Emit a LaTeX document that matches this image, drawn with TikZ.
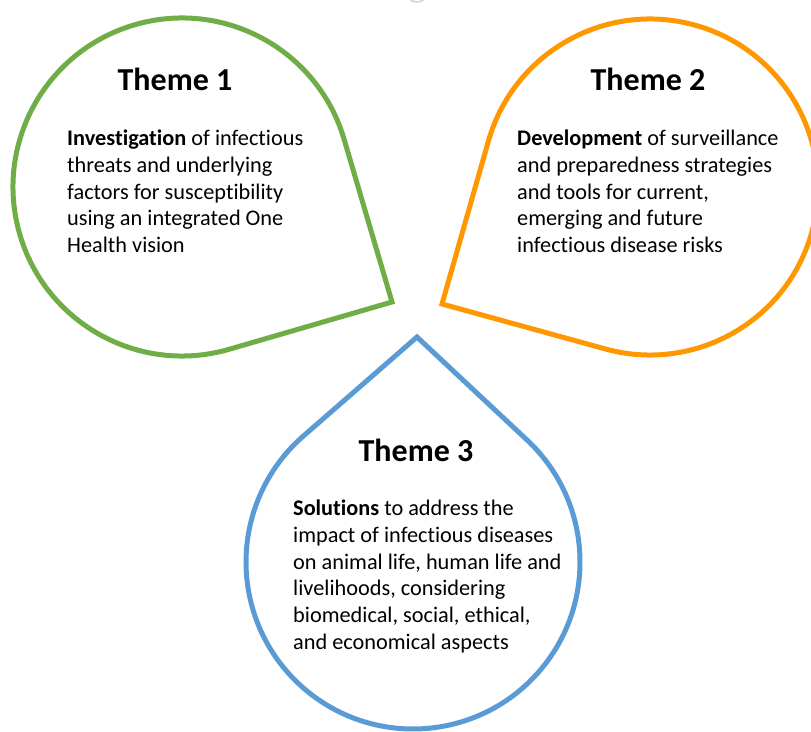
\documentclass[tikz,border=0pt]{standalone}
\usepackage{fontspec}
\setmainfont{Carlito}[Ligatures=NoCommon]
\usepackage{tikz}
\usetikzlibrary{calc}

\definecolor{themegreen}{RGB}{112,173,71}
\definecolor{themeorange}{RGB}{255,152,0}
\definecolor{themeblue}{RGB}{91,155,213}

\begin{document}
\begin{tikzpicture}[
    x=1pt, y=1pt,
    drop/.style={line width=5pt, line join=miter},
    title/.style={font=\bfseries\fontsize{32}{38}\selectfont, inner sep=0pt},
    body/.style={anchor=north west, align=left, inner sep=0pt, font=\fontsize{22.3}{26.7}\selectfont}
]
\useasboundingbox (0,0) rectangle (811,731);

% small grey mark on the top edge
\draw[gray!35, line width=1.5pt] (417,741) circle (12);

% Theme 1 drop, tip pointing down right
\coordinate (c1) at (182,544);
\coordinate (tip1) at (392,429);
\draw[drop, themegreen] (tip1) -- ($(c1)+(16.4:169)$) arc[start angle=16.4, end angle=286.2, radius=169] -- cycle;

% Theme 2 drop, tip pointing down left
\coordinate (c2) at (650,544);
\coordinate (tip2) at (442,427);
\draw[drop, themeorange] (tip2) -- ($(c2)+(254.6:168)$) arc[start angle=254.6, end angle=524.1, radius=168] -- cycle;

% Theme 3 drop, tip pointing up
\coordinate (c3) at (413,169);
\coordinate (tip3) at (417,394);
\draw[drop, themeblue] (tip3) -- ($(c3)+(46.9:167)$) arc[start angle=46.9, end angle=-228.9, radius=167] -- cycle;

% Titles
\node[title] (theme1) at (175,652) {Theme 1};
\node[title] (theme2) at (648,652) {Theme 2};
\node[title] (theme3) at (416,281) {Theme 3};

% Texts
\node[body] (text1) at (67,601) {\textbf{Investigation} of infectious\\threats and underlying\\factors for susceptibility\\using an integrated One\\Health vision};
\node[body] (text2) at (517,601) {\textbf{Development} of surveillance\\and preparedness strategies\\and tools for current,\\emerging and future\\infectious disease risks};
\node[body] (text3) at (293,231) {\textbf{Solutions} to address the\\impact of infectious diseases\\on animal life, human life and\\livelihoods, considering\\biomedical, social, ethical,\\and economical aspects};

\end{tikzpicture}
\end{document}
